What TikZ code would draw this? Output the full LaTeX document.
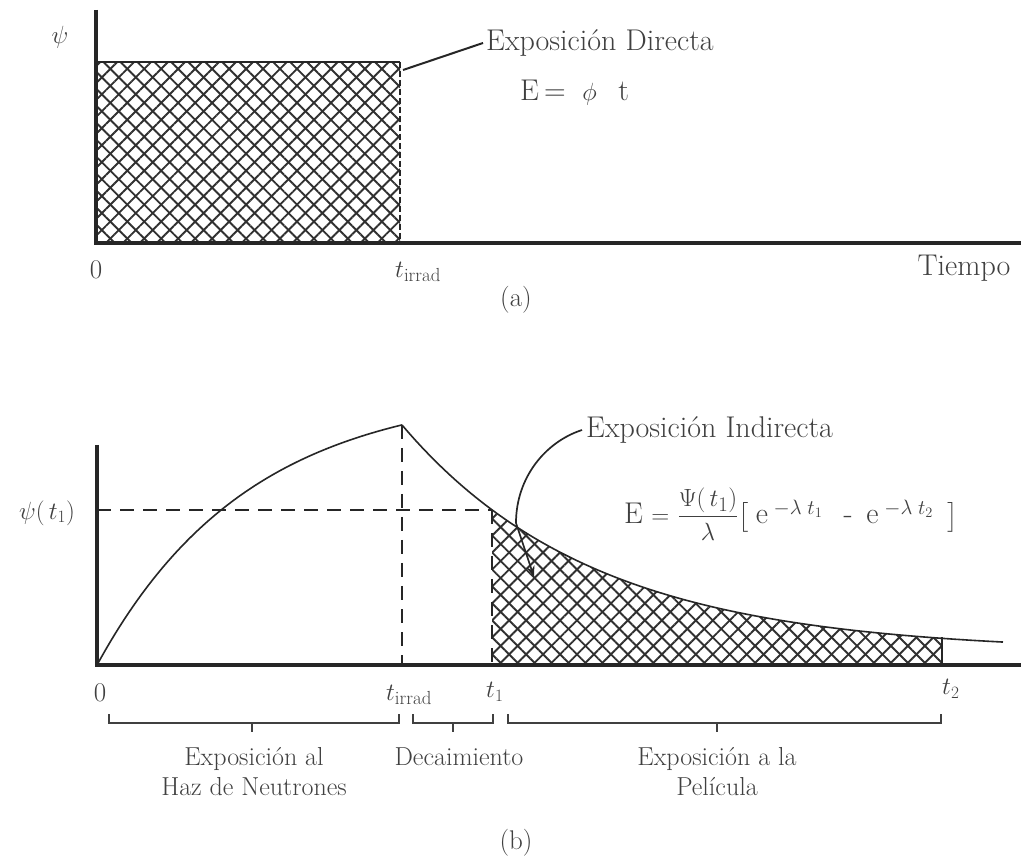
\documentclass[tikz,border=0pt]{standalone}
\usepackage{fontspec}
\usepackage{amsmath}
\usetikzlibrary{patterns.meta,arrows.meta}
\definecolor{ink}{HTML}{262626}
\definecolor{txt}{HTML}{404040}
\definecolor{hatchc}{HTML}{303030}
\begin{document}
\begin{tikzpicture}[x=1pt,y=-1pt,
  axis/.style={ink,line width=3.5pt},
  curve/.style={ink,line width=1.6pt},
  dashln/.style={ink,line width=1.8pt,dash pattern=on 14pt off 9pt},
  edgeln/.style={ink,line width=1.2pt},
  lbl/.style={txt,inner sep=0pt,font=\fontsize{30}{36}\selectfont},
  mlbl/.style={txt,inner sep=0pt,font=\fontsize{27}{32}\selectfont},
  flbl/.style={txt,inner sep=0pt,font=\fontsize{30}{36}\selectfont},
  slbl/.style={txt,inner sep=0pt,align=center,font=\fontsize{26}{30}\selectfont},
  brk/.style={txt,line width=1.8pt},
  hatchA/.style={pattern={Lines[angle=45,distance=12pt,line width=1.9pt]},pattern color=hatchc},
  hatchB/.style={pattern={Lines[angle=-45,distance=12pt,line width=1.9pt]},pattern color=hatchc},
  leader/.style={ink,line width=2pt}]
\useasboundingbox (0,0) rectangle (1021,858);
\fill[white] (0,0) rectangle (1021,858);

% ---------------- panel (a) ----------------
\coordinate (aO) at (96,243);
\coordinate (aTop) at (96,10);
\coordinate (aEnd) at (1021,243);
\coordinate (aRT) at (400,62);
\coordinate (aRB) at (400,243);
\coordinate (aLT) at (96,62);
\fill[hatchA] (aLT) rectangle (aRB);
\fill[hatchB] (aLT) rectangle (aRB);
\draw[ink,line width=2.6pt] (aLT) -- (aRT);
\draw[edgeln,dash pattern=on 6pt off 3pt] (aRT) -- (aRB);
\draw[axis] (aTop) -- (aO) -- (aEnd);

\node[mlbl] (apsi) at (60,37) {$\psi$};
\node[lbl,anchor=west] (dirlab) at (486,43) {Exposición Directa};
\node[lbl,anchor=west] (dirfor) at (520,93) {E\,=\;\;$\phi$\;\;\,t};
\coordinate (aLeadStart) at (403,70);
\draw[leader] (aLeadStart) -- ([xshift=-3pt]dirlab.west);
\node[mlbl] (a0) at (96,270) {0};
\node[mlbl,anchor=west] (atirr) at (395,272) {$t_{\mathrm{irrad}}$};
\node[lbl] (atiempo) at (964,268) {Tiempo};
\node[mlbl] (acap) at (516,300) {(a)};

% ---------------- panel (b) ----------------
\coordinate (bO) at (97,665);
\coordinate (bTop) at (97,445);
\coordinate (bEnd) at (1021,665);
\coordinate (bPeak) at (402,425);
\coordinate (bPeakB) at (402,665);
\coordinate (bT1) at (492,510);
\coordinate (bT1B) at (492,665);
\coordinate (bPsiL) at (97,510);
\coordinate (bT2B) at (942,665);
\coordinate (bT2T) at (942,637);

\fill[hatchA] (bT1B) -- plot[domain=90:540,samples=60] ({402+\x},{665-13-227*exp(-0.0052*\x)}) -- (bT2B) -- cycle;
\fill[hatchB] (bT1B) -- plot[domain=90:540,samples=60] ({402+\x},{665-13-227*exp(-0.0052*\x)}) -- (bT2B) -- cycle;
\draw[edgeln] (bT2T) -- (bT2B);

\draw[curve] plot[domain=0:305,samples=70] ({97+\x},{665-240*(1-exp(-0.0066*\x))/0.8664});
\draw[curve] plot[domain=0:601,samples=90] ({402+\x},{665-13-227*exp(-0.0052*\x)});

\draw[dashln] (bPsiL) -- (bT1);
\draw[dashln] (bPeak) -- (bPeakB);
\draw[dashln] (bT1) -- (bT1B);
\draw[axis] (bTop) -- (bO) -- (bEnd);

\node[mlbl] (bpsi) at (47,513) {$\psi(\,t_1)$};
\node[mlbl] (b0) at (100,693) {0};
\node[mlbl,anchor=west] (btirr) at (386,695) {$t_{\mathrm{irrad}}$};
\node[mlbl,anchor=west] (bt1) at (486,692) {$t_1$};
\node[mlbl,anchor=west] (bt2) at (942,689) {$t_2$};

\node[lbl,anchor=west] (indlab) at (586,430) {Exposición Indirecta};
\node[flbl,anchor=west] (indfor) at (624,514) {E\;$=$\;$\dfrac{\Psi(\,t_1)}{\lambda}\bigl[\;\mathrm{e}^{\;-\lambda\;t_{1}}\;\;\;\text{-}\;\;\mathrm{e}^{\;-\lambda\;t_{2}}\;\;\bigr]$};
\coordinate (indTouch) at (516,523);
\coordinate (indTip) at (534,577);
\draw[curve,line width=1.7pt,-{Stealth[length=11pt,width=8pt]}] ([xshift=-4pt]indlab.west) .. controls (545,442) and (516,478) .. (indTouch) -- (indTip);

% braces
\draw[brk] (109,714) -- (109,723) -- (399,723) -- (399,714);
\draw[brk] (252,723) -- (252,732);
\draw[brk] (413,714) -- (413,723) -- (493,723) -- (493,714);
\draw[brk] (453,723) -- (453,732);
\draw[brk] (508,714) -- (508,723) -- (941,723) -- (941,714);
\draw[brk] (717,723) -- (717,732);

\node[slbl] (l1) at (254,772) {Exposición al\\Haz de Neutrones};
\node[slbl] (l2) at (459,757) {Decaimiento};
\node[slbl] (l3) at (717,772) {Exposición a la\\Película};
\node[mlbl] (bcap) at (516,843) {(b)};
\end{tikzpicture}
\end{document}
